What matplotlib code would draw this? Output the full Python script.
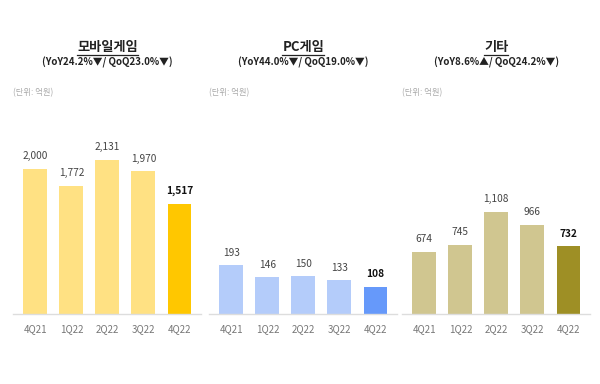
import matplotlib
matplotlib.use("Agg")
import matplotlib.pyplot as plt
from matplotlib.lines import Line2D

plt.rcParams['font.family'] = ['Noto Sans CJK KR', 'DejaVu Sans']

quarters = ["4Q21", "1Q22", "2Q22", "3Q22", "4Q22"]
mobile = [2000, 1772, 2131, 1970, 1517]
pc = [193, 146, 150, 133, 108]
other = [674, 745, 1108, 966, 732]

titles = ["모바일게임", "PC게임", "기타"]
subtitles = ["(YoY24.2%▼/ QoQ23.0%▼)", "(YoY44.0%▼/ QoQ19.0%▼)", "(YoY8.6%▲/ QoQ24.2%▼)"]
unit_label = "(단위: 억원)"

series = [mobile, pc, other]
light = ["#FFE183", "#B4CCFA", "#D0C690"]
dark = ["#FFC700", "#6699FA", "#9E8F25"]
ytops = [2759, 794, 2162]

W, H = 600, 384
fig = plt.figure(figsize=(W / 100, H / 100), dpi=100)

lefts = [13, 209, 402]
unit_x = [13, 209, 402]
axw = 188
base = 314
axh = 200

for i in range(3):
    ax = fig.add_axes([lefts[i] / W, (H - base) / H, axw / W, axh / H])
    vals = series[i]
    cols = [light[i]] * 4 + [dark[i]]
    x = list(range(len(quarters)))
    ax.bar(x, vals, width=0.66, color=cols)
    ax.set_xlim(-0.62, 4.6)
    ax.set_ylim(0, ytops[i])
    for s in ["top", "right", "left"]:
        ax.spines[s].set_visible(False)
    ax.spines["bottom"].set_color("#DDDDDD")
    ax.spines["bottom"].set_linewidth(1.0)
    ax.set_yticks([])
    ax.set_xticks(x)
    ax.set_xticklabels(quarters, fontsize=7, color="#777777")
    ax.tick_params(axis="x", length=0, pad=7)
    for j, v in enumerate(vals):
        ax.annotate(f"{v:,}", (j, v), xytext=(0, 5.5), textcoords="offset points",
                    ha="center", va="bottom", fontsize=7.3,
                    color="#111111" if j == 4 else "#444444",
                    fontweight="bold" if j == 4 else "normal")
    cx = (lefts[i] + (2 + 0.62) / 5.22 * axw) / W
    t = fig.text(cx, 1 - 47 / H, titles[i], ha="center", va="center",
                 fontsize=9.5, fontweight="bold", color="#222222")
    fig.text(cx, 1 - 62 / H, subtitles[i], ha="center", va="center",
             fontsize=7, fontweight="bold", color="#222222")
    fig.text(unit_x[i] / W, 1 - 93 / H, unit_label,
             ha="left", va="center", fontsize=6, color="#AAAAAA")
    fig.canvas.draw()
    bb = t.get_window_extent()
    y0 = bb.y0 - 1
    fig.add_artist(Line2D([bb.x0 / W, bb.x1 / W], [y0 / H, y0 / H],
                          color="#222222", linewidth=0.9, transform=fig.transFigure))

fig.savefig("out.png", dpi=100)
